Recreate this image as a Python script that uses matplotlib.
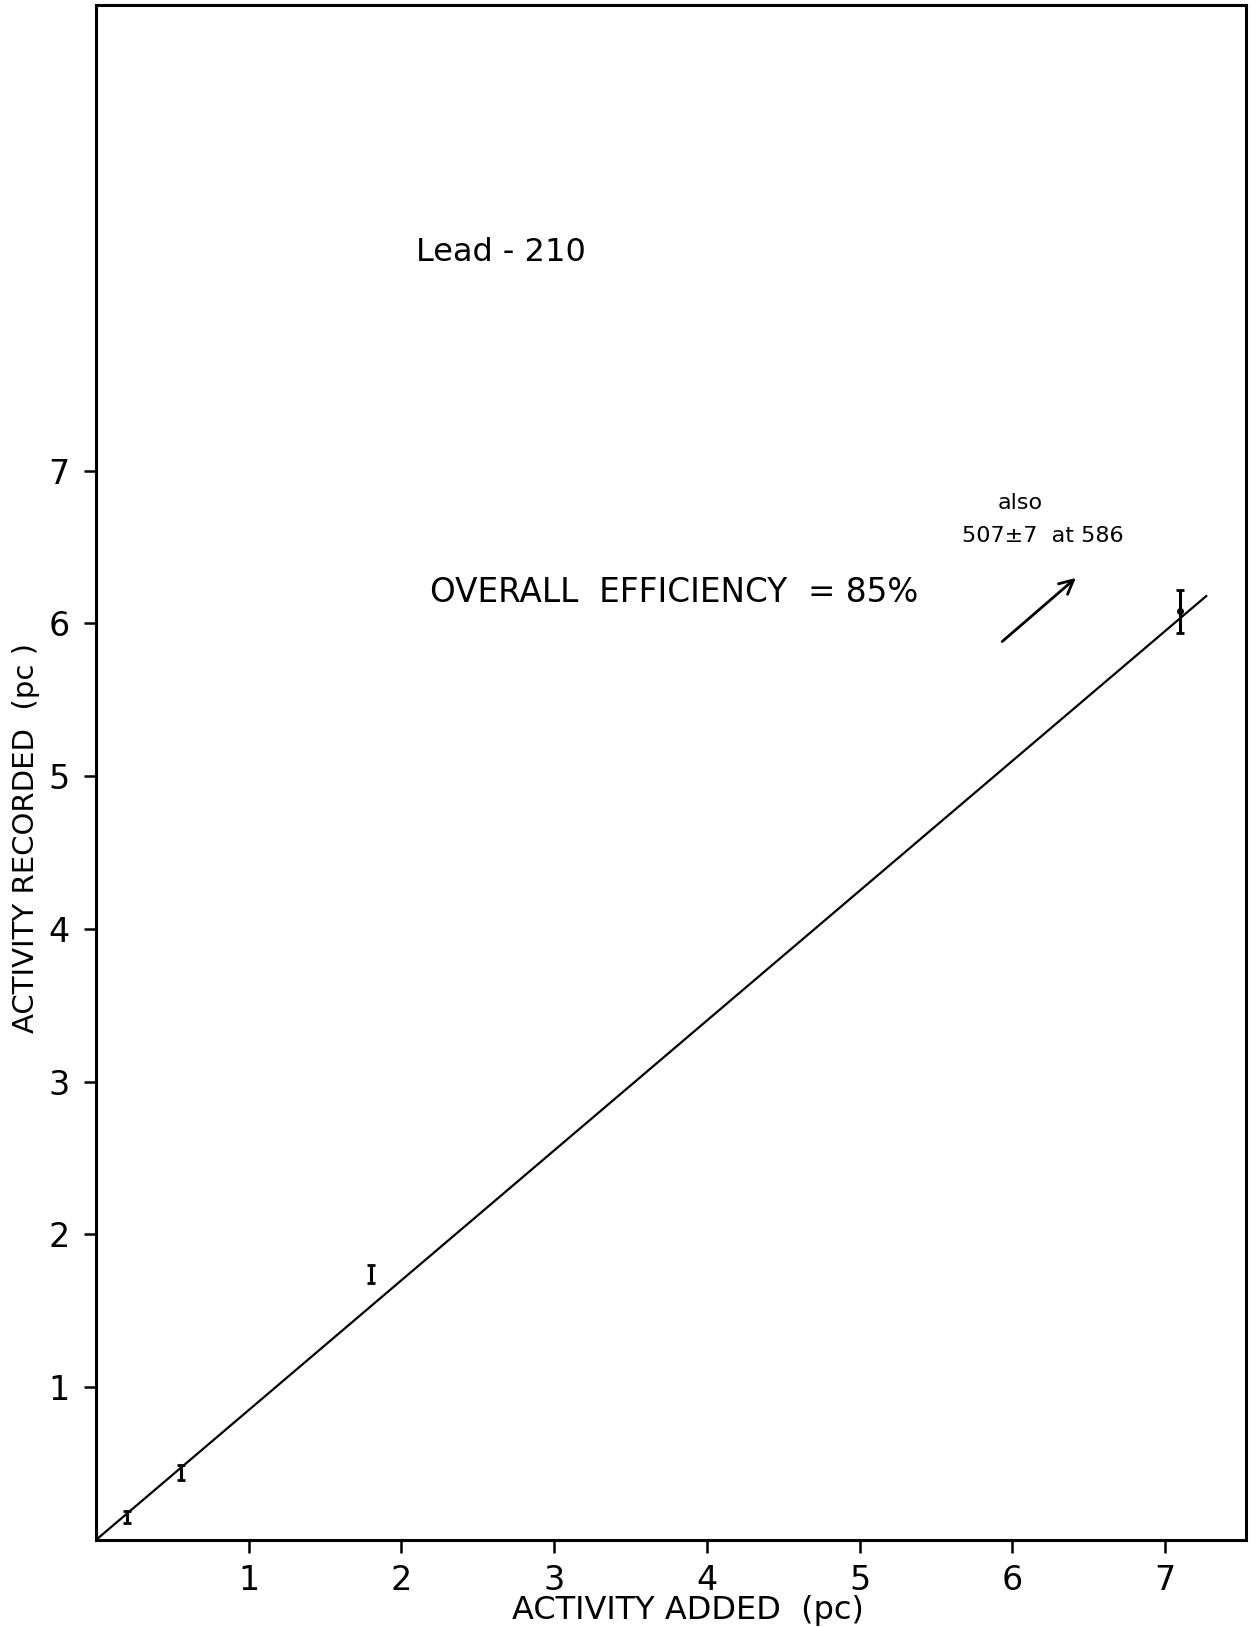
import numpy as np
import matplotlib.pyplot as plt

# activity added / recorded (pc) for the Lead-210 calibration
added = [0.2, 0.56, 1.8, 7.1]
recorded = [0.15, 0.44, 1.74, 6.08]
errors = [0.04, 0.05, 0.06, 0.14]

efficiency = 0.85
fit_x = [0.0, 7.27]

xticks = [1, 2, 3, 4, 5, 6, 7]
yticks = [1, 2, 3, 4, 5, 6, 7]

plt.rcParams['font.family'] = ['DejaVu Sans']

fig = plt.figure(figsize=(12.56, 16.27), dpi=100)
ax = fig.add_axes([0.0764, 0.0535, 0.9156, 0.9435])

ax.plot(fit_x, [efficiency * v for v in fit_x], color='black', lw=1.6)
ax.errorbar(added, recorded, yerr=errors, fmt='none', ecolor='black',
            elinewidth=2.2, capsize=3, capthick=2)
ax.plot(added[-1:], recorded[-1:], 'o', color='black', ms=4)

ax.set_xlim(0, 7.53)
ax.set_ylim(0, 10.05)
ax.set_xticks(xticks)
ax.set_yticks(yticks)
ax.tick_params(direction='out', length=9, width=1.8, labelsize=24)
ax.tick_params(axis='x', pad=8)
ax.tick_params(axis='y', pad=10)
for s in ax.spines.values():
    s.set_linewidth(2.2)

ax.set_xlabel('ACTIVITY ADDED  (pc)', fontsize=23)
ax.xaxis.set_label_coords(0.515, -0.036)
ax.set_ylabel('ACTIVITY RECORDED  (pc )', fontsize=21)
ax.yaxis.set_label_coords(-0.049, 0.457)

ax.text(2.65, 8.43, 'Lead - 210', fontsize=23, ha='center', va='center')
ax.text(2.19, 6.2, 'OVERALL  EFFICIENCY  = 85%', fontsize=23.5, ha='left', va='center')
ax.text(6.05, 6.79, 'also', fontsize=16, ha='center', va='center')
ax.text(6.2, 6.57, '507±7  at 586', fontsize=16, ha='center', va='center')
ax.annotate('', xy=(6.43, 6.31), xytext=(5.92, 5.87),
            arrowprops=dict(arrowstyle='->', color='black', lw=2, mutation_scale=25))

fig.savefig('out.png', dpi=100)
